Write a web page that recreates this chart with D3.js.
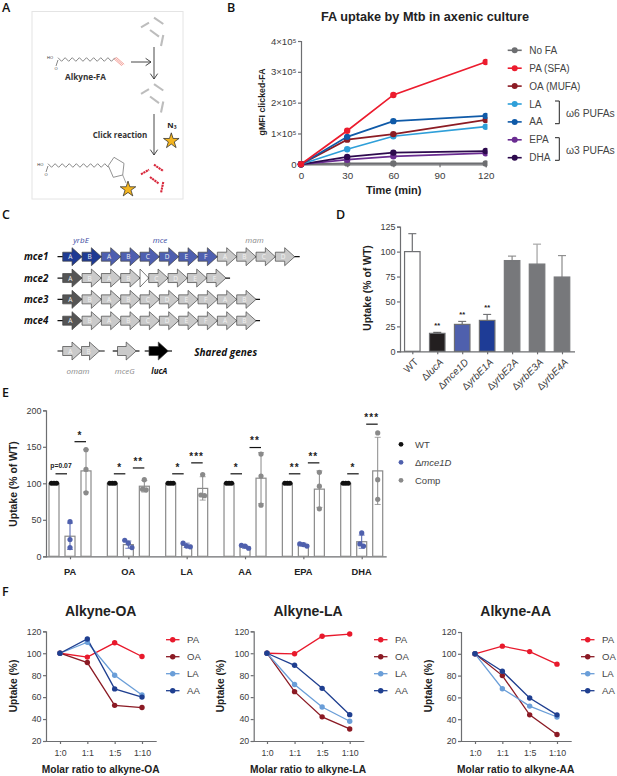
<!DOCTYPE html>
<html><head><meta charset="utf-8">
<script src="https://cdn.jsdelivr.net/npm/d3@7/dist/d3.min.js"></script>
<style>
html,body{margin:0;padding:0;background:#fff}
svg{display:block}
text{font-family:"Liberation Sans",Arial,sans-serif}
</style></head><body>
<svg id="c" width="617" height="776"></svg>
<script>
// ---------- Panel B data
const timeTicks=[0,30,60,90,120];
const timePoints=[0,30,60,120];
const uptakeTicks=[0,100000,200000,300000,400000];
const bNames=["No FA","PA (SFA)","OA (MUFA)","LA","AA","EPA","DHA"];
const bColors=["#6d6e71","#ec1c2e","#8c1c24","#2e9fd9","#0f5aa8","#6a2c91","#2d0a4e"];
const noFA=[0,3000,3000,3000];
const paB=[0,109000,225000,332000];
const oaB=[0,80000,98000,144000];
const laB=[0,49000,91000,122000];
const aaB=[0,89000,140000,157000];
const epaB=[0,15000,26000,36000];
const dhaB=[0,24000,38000,43000];
// ---------- Panel D data
const strains=["WT","lucA","mce1D","yrbE1A","yrbE2A","yrbE3A","yrbE4A"];
const strainMeans=[100,18,27,31,91,87.5,74.5];
const strainTops=[118,19,30,37,95.5,107.5,96];
const strainStars=["","**","**","**","","",""];
const strainFill=["#ffffff","#231f20","#4f60ad","#1e3c96","#77787b","#77787b","#77787b"];
const strainErr=["#6d6e71","#555","#6d6e71","#6d6e71","#8a8a8a","#a0a0a0","#8a8a8a"];
// ---------- Panel E data
const faGroups=["PA","OA","LA","AA","EPA","DHA"];
const wtMeans=[100,100,100,100,100,100];
const mutMeans=[27.5,16,15,13,16,20];
const compMeans=[117,96,93,107,92,117];
const mutPts=[[47.5,23,12],[22,18,12],[18,14,13],[15,14,11],[17,16,14],[32,17,14]];
const compPts=[[146,119,87],[105,92,91],[112,84,83],[140,110,70],[115,96,65],[169,105,78]];
const compSD=[29,8,16,35,25,46];
const mutSD=[18,5,3,2,2,9];
const sigLeft=["*","*","*","*","**","*"];
const sigRight=["*","**","***","**","**","***"];
const sigLeftY=[113,113,113,113,113,113];
const sigRightY=[157,121,128,149,128,181];
// ---------- Panel F data
const ratioCats=["1:0","1:1","1:5","1:10"];
const fSeries=["PA","OA","LA","AA"];
const fColors=["#e8192c","#8b1a24","#6a9ed8","#1f3f90"];
const oaPanel=[[100,96.5,109.5,97],[100,91.5,52.5,50.5],[100,110,80,62],[100,113,67.5,60]];
const laPanel=[[100,99.5,115.5,117.5],[100,65,42,31],[100,71.5,51,38],[100,89,68,44]];
const aaPanel=[[100,107,102,90.5],[100,80,44,26],[100,68,52,42],[100,84,59.5,44]];
// ---------- Panel C data
const geneRows=[
 {name:"mce1",labels:["A","B","A","B","C","D","E","F","A","B","C","D"],kinds:["y","y","m","m","m","m","m","m","g","g","g","g"]},
 {name:"mce2",labels:["A","B","A","B","","C","D","E","F"],kinds:["k","g","g","g","n","g","g","g","g"]},
 {name:"mce3",labels:["A","B","A","B","C","D","E","F","A","B"],kinds:["k","g","g","g","g","g","g","g","g","g"]},
 {name:"mce4",labels:["A","B","A","B","C","D","E","F","A","B"],kinds:["k","g","g","g","g","g","g","g","g","g"]}];
const geneFill={y:"#1f3a93",m:"#4e5fb0",g:"#cacaca",k:"#555555",n:"#ffffff",b:"#000000"};

const svg=d3.select("#c");
const axisCol="#6d6e71", tickCol="#3c3c3c";
const sans='"Liberation Sans",Arial,sans-serif', cal='"Open Sans",sans-serif';
function txt(g,x,y,s,o={}){
  const t=g.append("text").attr("x",x).attr("y",y).text(s)
   .attr("font-size",o.size||9.5).attr("fill",o.fill||tickCol)
   .attr("text-anchor",o.anchor||"start").attr("dominant-baseline","central");
  if(o.bold)t.attr("font-weight",o.bold===true?"bold":o.bold);
  if(o.italic)t.attr("font-style","italic");
  if(o.font)t.style("font-family",o.font);
  if(o.rot!=null)t.attr("transform",`rotate(${o.rot} ${x} ${y})`);
  return t;
}
function styleAxis(g,w=1.2){
  g.selectAll("path.domain").attr("stroke",axisCol).attr("stroke-width",w);
  g.selectAll(".tick line").attr("stroke",axisCol).attr("stroke-width",w);
  g.selectAll(".tick text").attr("fill",tickCol).style("font-family",sans);
}
// panel letters
[["A",2,7],["B",227,7],["C",2,214],["D",336,214],["E",2,392],["F",2,591]].forEach(d=>
  txt(svg,d[1],d[2],d[0],{size:12.5,bold:600,fill:"#111",font:cal}));

// ---------- Panel A (schematic)
(function(){
 const g=svg.append("g");
 g.append("rect").attr("x",32).attr("y",11.5).attr("width",151).attr("height",187.5).attr("fill","#fff").attr("stroke","#e4e4e4").attr("stroke-width",1);
 const zz=(x0,x1,y,n)=>d3.range(n+1).map(i=>[x0+(x1-x0)*i/n,y+(i%2?1.8:-1.8)]);
 const ln=d3.line(), chain="#555";
 g.append("path").attr("d",ln(zz(58,115,59.5,16))).attr("fill","none").attr("stroke",chain).attr("stroke-width",.7);
 g.append("path").attr("d",ln([[58,60],[56,66]])).attr("stroke",chain).attr("stroke-width",.7);
 [0,1.2,-1.2].forEach(o=>g.append("line").attr("x1",115+o).attr("y1",58-o*.6).attr("x2",123+o).attr("y2",65-o*.6).attr("stroke","#ee7a70").attr("stroke-width",.7));
 txt(g,47,57.3,"HO",{size:4,fill:"#333"}); txt(g,54.5,68.5,"O",{size:4,fill:"#333"});
 txt(g,85.5,76.5,"Alkyne-FA",{size:8.2,bold:true,anchor:"middle",fill:"#333",font:cal});
 txt(g,120,134,"Click reaction",{size:8,bold:true,anchor:"middle",fill:"#333",font:cal});
 g.append("path").attr("d",ln(zz(48,108.3,165.5,17))).attr("fill","none").attr("stroke",chain).attr("stroke-width",.7);
 g.append("path").attr("d",ln([[48,166],[46,172]])).attr("stroke",chain).attr("stroke-width",.7);
 txt(g,37.3,164,"HO",{size:4,fill:"#333"}); txt(g,44.5,174.5,"O",{size:4,fill:"#333"});
 g.append("path").attr("d","M108.3,165.7L114,157.3L124,163.3L122.7,175L113.3,177.3Z").attr("fill","none").attr("stroke","#777").attr("stroke-width",.8);
 g.append("path").attr("d","M122.7,175L126,183").attr("stroke","#777").attr("stroke-width",.7);
 txt(g,172,124.5,"N\u2083",{size:7.8,bold:true,anchor:"middle",fill:"#222",font:cal});
 const rods=[[[141,27.3],[149,22.7]],[[154,17.7],[163.3,24]],[[150,30],[159,36.7]],[[163.3,35],[161,46]]];
 const dy=[0,66.5,147];
 dy.forEach((d,i)=>rods.forEach(r=>{
   g.append("line").attr("x1",r[0][0]).attr("y1",r[0][1]+d).attr("x2",r[1][0]).attr("y2",r[1][1]+d)
    .attr("stroke",i==2?"#d8283c":"#bdbdbd").attr("stroke-width",2.1).attr("stroke-dasharray",i==2?"2.2 .6":null);
 }));
 const arrow=(x1,y1,x2,y2)=>{
   g.append("line").attr("x1",x1).attr("y1",y1).attr("x2",x2).attr("y2",y2).attr("stroke","#333").attr("stroke-width",.9);
   const a=Math.atan2(y2-y1,x2-x1),h=6.5;
   g.append("path").attr("d",ln([[x2-h*Math.cos(a-.6),y2-h*Math.sin(a-.6)],[x2,y2],[x2-h*Math.cos(a+.6),y2-h*Math.sin(a+.6)]])).attr("fill","none").attr("stroke","#333").attr("stroke-width",.9);
 };
 arrow(131,62,151,62); arrow(154,47,154,79); arrow(154,114,154,155);
 const star=d3.symbol().type(d3.symbolStar).size(75)();
 [[171.3,141],[128,189.3]].forEach(p=>g.append("path").attr("d",star).attr("transform",`translate(${p[0]},${p[1]})`).attr("fill","#f4b520").attr("stroke","#222").attr("stroke-width",.7));
})();

// ---------- Panel B
(function(){
 const g=svg.append("g");
 svg.append("clipPath").attr("id","bclip").append("rect").attr("x",290).attr("y",30).attr("width",197.5).attr("height",140);
 const x=d3.scaleLinear().domain([0,120]).range([301,485.7]);
 const y=d3.scaleLinear().domain([0,400000]).range([164.3,41]);
 const fmt=v=>v===0?"0":(v/100000)+"\u00d710\u2075";
 const ax=g.append("g").attr("transform","translate(0,164.3)").call(d3.axisBottom(x).tickValues(timeTicks).tickSize(3).tickPadding(5)).attr("font-size",9.8);
 const ay=g.append("g").attr("transform","translate(301,0)").call(d3.axisLeft(y).tickValues(uptakeTicks).tickFormat(fmt).tickSize(3).tickPadding(1.5)).attr("font-size",9.6);
 styleAxis(ax);styleAxis(ay);
 const line=d3.line().x((d,i)=>x(timePoints[i])).y(d=>y(d));
 const m=g.append("g").attr("clip-path","url(#bclip)");
 const all=[noFA,paB,oaB,laB,aaB,epaB,dhaB];
 [noFA,epaB,dhaB,laB,oaB,aaB,paB].forEach((s)=>{
   const c=bColors[all.indexOf(s)];
   m.append("path").attr("d",line(s)).attr("fill","none").attr("stroke",c).attr("stroke-width",1.7);
   m.selectAll(null).data(s).join("circle").attr("cx",(d,i)=>x(timePoints[i])).attr("cy",d=>y(d)).attr("r",3.2).attr("fill",c);
 });
 txt(g,425,17,"FA uptake by Mtb in axenic culture",{size:12.7,bold:true,anchor:"middle",fill:"#222"});
 txt(g,393.7,190,"Time (min)",{size:11,bold:true,anchor:"middle",fill:"#222"});
 txt(g,261.5,102,"gMFI clicked-FA",{size:8.8,bold:true,anchor:"middle",fill:"#222",rot:-90});
 const ly=d3.scalePoint().domain(bNames).range([50.3,157.7]);
 bNames.forEach((n,i)=>{
   g.append("line").attr("x1",507.7).attr("x2",521.7).attr("y1",ly(n)).attr("y2",ly(n)).attr("stroke",bColors[i]).attr("stroke-width",1.6);
   g.append("circle").attr("cx",514.7).attr("cy",ly(n)).attr("r",3).attr("fill",bColors[i]);
   txt(g,529.3,ly(n),n,{size:10,fill:"#444"});
 });
 [[101,123.7,113,"\u03c96  PUFAs"],[137.7,160.3,150,"\u03c93  PUFAs"]].forEach(b=>{
   g.append("path").attr("d",`M555,${b[0]}H559.3V${b[1]}H555`).attr("fill","none").attr("stroke","#222").attr("stroke-width",1);
   txt(g,566,b[2],b[3],{size:10.3,fill:"#444"});
 });
})();

// ---------- Panel C
(function(){
 const g=svg.append("g");
 const xg=d3.scaleLinear().domain([0,12]).range([62.7,294.7]);
 const rowY=d3.scalePoint().domain(geneRows.map(r=>r.name)).range([256.7,320.7]);
 const hhN=9;
 const arrowPath=(x,y,w,bh=4.5,hh=9,hw=10)=>{
   const b=w-hw;
   return d3.line()([[x,y-bh],[x+b,y-bh],[x+b,y-hh],[x+w,y],[x+b,y+hh],[x+b,y+bh],[x,y+bh]])+"Z";
 };
 const gene=(x,y,w,k,lab)=>{
   g.append("path").attr("d",k==="n"?d3.line()([[x,y-hhN],[x+w,y],[x,y+hhN]])+"Z":arrowPath(x,y,w)).attr("fill",geneFill[k]).attr("stroke","#444").attr("stroke-width",.7);
   if(lab)txt(g,x+(w-4)/2,y,lab,{size:6.5,anchor:"middle",fill:"#f2f2f2",font:cal});
 };
 geneRows.forEach(r=>{
   const y=rowY(r.name);
   let cx=xg(0);
   const widths=r.kinds.map(k=>k==="n"?8.7:xg(1)-xg(0));
   const total=d3.sum(widths);
   g.append("line").attr("x1",57.5).attr("x2",cx+total+(r.name==="mce1"?5:4)).attr("y1",y).attr("y2",y).attr("stroke","#111").attr("stroke-width",1.2);
   r.kinds.forEach((k,i)=>{gene(cx,y,widths[i],k,r.labels[i]);cx+=widths[i];});
   txt(g,24,y,r.name,{size:9.8,bold:true,italic:true,fill:"#111",font:cal});
 });
 const y2=351;
 [[57.5,104.7],[112.7,139.5],[144.7,172]].forEach(l=>g.append("line").attr("x1",l[0]).attr("x2",l[1]).attr("y1",y2).attr("y2",y2).attr("stroke","#111").attr("stroke-width",1.2));
 gene(62.7,y2,19.3,"g","A");gene(81.5,y2,18,"g","B");gene(117.5,y2,18.7,"g","");gene(149,y2,19.3,"b","");
 txt(g,81,239.3,"yrbE",{size:8,italic:true,anchor:"middle",fill:"#3a4a9f",font:cal});
 txt(g,160,239.3,"mce",{size:8,italic:true,anchor:"middle",fill:"#3a4a9f",font:cal});
 txt(g,254.5,239.3,"mam",{size:8,italic:true,anchor:"middle",fill:"#8a8a8a",font:cal});
 txt(g,225.7,351.5,"Shared genes",{size:10,bold:true,italic:true,anchor:"middle",fill:"#111",font:cal});
 txt(g,78,370,"omam",{size:8,italic:true,anchor:"middle",fill:"#8a8a8a",font:cal});
 txt(g,124.7,370,"mceG",{size:8,italic:true,anchor:"middle",fill:"#8a8a8a",font:cal});
 txt(g,159.3,370,"lucA",{size:8,bold:true,italic:true,anchor:"middle",fill:"#111",font:cal});
})();

// ---------- Panel D
(function(){
 const g=svg.append("g");
 const x=d3.scalePoint().domain(strains).range([412.3,562]);
 const y=d3.scaleLinear().domain([0,125]).range([351.3,226.7]);
 const ax=g.append("g").attr("transform","translate(0,351.3)").call(d3.axisBottom(x).tickSize(3).tickFormat(""));
 ax.select("path.domain").attr("d","M400,0.5H575");
 const ay=g.append("g").attr("transform","translate(400,0)").call(d3.axisLeft(y).tickValues([0,25,50,75,100,125]).tickSize(3).tickPadding(1.5)).attr("font-size",9);
 styleAxis(ax);styleAxis(ay);
 const bw=15.5;
 strains.forEach((s,i)=>{
   const cx=x(s);
   g.append("line").attr("x1",cx).attr("x2",cx).attr("y1",y(strainMeans[i])).attr("y2",y(strainTops[i])).attr("stroke",strainErr[i]).attr("stroke-width",1.2);
   g.append("line").attr("x1",cx-4).attr("x2",cx+4).attr("y1",y(strainTops[i])).attr("y2",y(strainTops[i])).attr("stroke",strainErr[i]).attr("stroke-width",1.1);
   g.append("rect").attr("x",cx-bw/2).attr("width",bw).attr("y",y(strainMeans[i])).attr("height",y(0)-y(strainMeans[i])).attr("fill",strainFill[i]).attr("stroke",i==0?"#6d6e71":(i<4?"#6d6e71":"#77787b")).attr("stroke-width",1.2);
   if(strainStars[i])txt(g,cx,y(strainTops[i])-7,strainStars[i],{size:7.5,bold:true,anchor:"middle",fill:"#222"});
   const lab=g.append("text").attr("text-anchor","end").attr("font-size",10).attr("fill",tickCol).attr("transform",`translate(${cx+4},${360}) rotate(-45)`).attr("dominant-baseline","central");
   if(i===0)lab.text("WT");
   else{lab.append("tspan").text("\u0394");lab.append("tspan").attr("font-style","italic").text(s);}
 });
 txt(g,367.7,288,"Uptake (% of WT)",{size:10.4,bold:true,anchor:"middle",fill:"#222",rot:-90});
})();

// ---------- Panel E
(function(){
 const g=svg.append("g");
 const x=d3.scalePoint().domain(faGroups).range([70,361.7]);
 const y=d3.scaleLinear().domain([0,200]).range([556.3,410.3]);
 const ax=g.append("g").attr("transform","translate(0,556.3)").call(d3.axisBottom(x).tickSize(3).tickFormat(""));
 ax.select("path.domain").attr("d","M46,0.5H386.7");
 const ay=g.append("g").attr("transform","translate(46,0)").call(d3.axisLeft(y).tickValues([0,50,100,150,200]).tickSize(3).tickPadding(1.5)).attr("font-size",9);
 styleAxis(ax);styleAxis(ay);
 const off=16,bw=10,barCol="#8a8a8a",gCol="#8a8a8a",bCol="#4f60ad";
 const dodge=(pts,step,thr)=>{
   const out=[];let grp=[];
   const flush=()=>{grp.forEach((v,j)=>out.push([v,(j-(grp.length-1)/2)*step]));grp=[];};
   pts.forEach(v=>{if(grp.length&&grp[grp.length-1]-v>thr)flush();grp.push(v);});flush();
   return out;
 };
 faGroups.forEach((n,i)=>{
   const c=x(n);
   txt(g,c,571.5,n,{size:9.3,bold:true,anchor:"middle",fill:"#222"});
   [[-off,wtMeans[i]],[0,mutMeans[i]],[off,compMeans[i]]].forEach(b=>{
     g.append("rect").attr("x",c+b[0]-bw/2).attr("width",bw).attr("y",y(b[1])).attr("height",y(0)-y(b[1])).attr("fill","#fff").attr("stroke",barCol).attr("stroke-width",1.2);
   });
   [[0,mutMeans[i],mutSD[i],bCol],[off,compMeans[i],compSD[i],gCol]].forEach(e=>{
     g.append("line").attr("x1",c+e[0]).attr("x2",c+e[0]).attr("y1",y(e[1]-e[2])).attr("y2",y(e[1]+e[2])).attr("stroke",e[3]).attr("stroke-width",1);
     [e[1]-e[2],e[1]+e[2]].forEach(v=>g.append("line").attr("x1",c+e[0]-3).attr("x2",c+e[0]+3).attr("y1",y(v)).attr("y2",y(v)).attr("stroke",e[3]).attr("stroke-width",.8));
   });
   dodge([100,100,100],2.6,5).forEach(p=>g.append("circle").attr("cx",c-off+p[1]).attr("cy",y(p[0])).attr("r",2.5).attr("fill","#111"));
   dodge(mutPts[i],3.6,6).forEach(p=>g.append("circle").attr("cx",c+p[1]).attr("cy",y(p[0])).attr("r",2.6).attr("fill",bCol));
   dodge(compPts[i],3.6,6).forEach(p=>g.append("circle").attr("cx",c+off+p[1]).attr("cy",y(p[0])).attr("r",2.6).attr("fill",gCol));
   // significance
   g.append("line").attr("x1",c-14.5).attr("x2",c-3).attr("y1",y(sigLeftY[i])).attr("y2",y(sigLeftY[i])).attr("stroke","#111").attr("stroke-width",1.2);
   g.append("line").attr("x1",c+4.5).attr("x2",c+16).attr("y1",y(sigRightY[i])).attr("y2",y(sigRightY[i])).attr("stroke","#111").attr("stroke-width",1.2);
   if(i===0)txt(g,61,y(124),"p=0.07",{size:6.8,bold:true,anchor:"middle",fill:"#222"});
   else txt(g,c-8.7,y(sigLeftY[i]+9),sigLeft[i],{size:10,bold:true,anchor:"middle",fill:"#222"}).attr("letter-spacing",1);
   txt(g,c+10,y(sigRightY[i]+9),sigRight[i],{size:10,bold:true,anchor:"middle",fill:"#222"}).attr("letter-spacing",1);
 });
 txt(g,13,484,"Uptake (% of WT)",{size:10.4,bold:true,anchor:"middle",fill:"#222",rot:-90});
 [["WT","#111",444.3],["mce1D",bCol,462.3],["Comp",gCol,480.3]].forEach((l,i)=>{
   g.append("circle").attr("cx",401).attr("cy",l[2]).attr("r",2.4).attr("fill",l[1]);
   if(i===1){
     const t=txt(g,415,l[2],"",{size:9.5,fill:"#444"});
     t.append("tspan").text("\u0394");t.append("tspan").attr("font-style","italic").text(l[0]);
   } else txt(g,415,l[2],l[0],{size:9.5,fill:"#444"});
 });
})();

// ---------- Panel F
function linePanel(o){
 const g=svg.append("g");
 const x=d3.scalePoint().domain(ratioCats).range([o.x0,o.x1]);
 const y=d3.scaleLinear().domain([20,120]).range([741,o.ytop]);
 const ax=g.append("g").attr("transform","translate(0,741)").call(d3.axisBottom(x).tickSize(3).tickPadding(6)).attr("font-size",8.8);
 ax.select("path.domain").attr("d",`M${o.axL},0.5H${o.axR}`);
 const ay=g.append("g").attr("transform",`translate(${o.axL},0)`).call(d3.axisLeft(y).tickValues([20,40,60,80,100,120]).tickSize(3).tickPadding(1.5)).attr("font-size",8.8);
 styleAxis(ax);styleAxis(ay);
 const line=d3.line().x((d,i)=>x(ratioCats[i])).y(d=>y(d));
 o.data.forEach((s,k)=>{
   g.append("path").attr("d",line(s)).attr("fill","none").attr("stroke",fColors[k]).attr("stroke-width",1.3);
 });
 o.data.forEach((s,k)=>{
   g.selectAll(null).data(s).join("circle").attr("cx",(d,i)=>x(ratioCats[i])).attr("cy",d=>y(d)).attr("r",2.7).attr("fill",fColors[k]);
 });
 txt(g,o.tc,610.7,o.title,{size:14,bold:true,anchor:"middle",fill:"#222"});
 txt(g,o.tc,769,o.xlab,{size:10.2,bold:true,anchor:"middle",fill:"#222"});
 txt(g,o.axL-33,686,"Uptake (%)",{size:10.2,bold:true,anchor:"middle",fill:"#222",rot:-90});
 const ly=d3.scalePoint().domain(fSeries).range([639.7,690.7]);
 fSeries.forEach((n,k)=>{
   g.append("line").attr("x1",o.lx).attr("x2",o.lx+13.5).attr("y1",ly(n)).attr("y2",ly(n)).attr("stroke",fColors[k]).attr("stroke-width",1.3);
   g.append("circle").attr("cx",o.lx+6.7).attr("cy",ly(n)).attr("r",2.7).attr("fill",fColors[k]);
   txt(g,o.lx+21,ly(n),n,{size:9.6,fill:"#444"});
 });
}
linePanel({data:oaPanel,title:"Alkyne-OA",xlab:"Molar ratio to alkyne-OA",x0:60,x1:142,axL:46,axR:156.7,ytop:631.3,tc:100.7,lx:166});
linePanel({data:laPanel,title:"Alkyne-LA",xlab:"Molar ratio to alkyne-LA",x0:267,x1:349.7,axL:253.7,axR:364.3,ytop:631.3,tc:308,lx:374});
linePanel({data:aaPanel,title:"Alkyne-AA",xlab:"Molar ratio to alkyne-AA",x0:475,x1:557,axL:461,axR:571.7,ytop:632,tc:515.7,lx:581});
</script>
</body></html>
